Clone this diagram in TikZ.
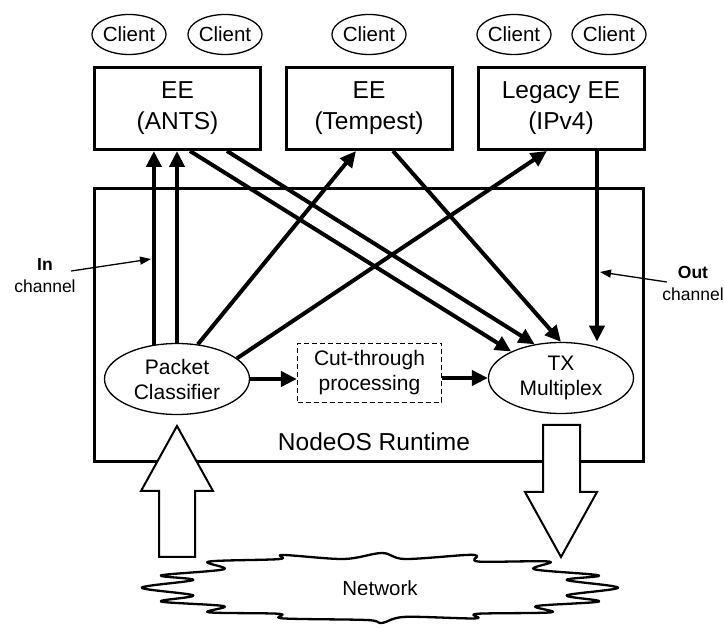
\documentclass[tikz,border=0pt]{standalone}
\usepackage{fontspec}
\setmainfont{Liberation Sans}
\usetikzlibrary{arrows.meta, shapes.geometric, calc}

\begin{document}
\begin{tikzpicture}[x=1pt, y=-1pt]
    \tikzstyle{client}=[draw, ellipse, line width=1.3pt, minimum width=72pt, minimum height=40pt, inner sep=0pt, font=\fontsize{20.5}{22}\selectfont]
    \tikzstyle{eebox}=[draw, rectangle, line width=3pt, minimum width=166pt, minimum height=82pt, align=center, font=\fontsize{24.5}{31}\selectfont]
    \tikzstyle{proc}=[draw, ellipse, line width=1.3pt, minimum width=145pt, minimum height=71pt, inner sep=0pt, align=center, font=\fontsize{21}{25}\selectfont]
    \tikzstyle{cutbox}=[draw, dash pattern=on 5pt off 3pt, line width=1.3pt, minimum width=144pt, minimum height=59pt, align=center, font=\fontsize{21}{25}\selectfont]
    \tikzstyle{flow}=[line width=4pt, -{Triangle[length=16pt,width=15pt]}]
    \tikzstyle{pointer}=[line width=1.3pt, -{Triangle[length=11pt,width=8pt]}]
    \tikzstyle{bigarrow}=[draw, fill=white, line width=2pt, line join=miter]
    \tikzstyle{note}=[align=center, font=\fontsize{17.5}{22}\selectfont]
    \useasboundingbox (0,0) rectangle (724,628);

    % NodeOS frame and the two network arrows
    \draw[line width=3pt] (94.5,188.5) rectangle (643.5,461.5);
    \node[font=\fontsize{24.5}{28}\selectfont] (rtlbl) at (374,442) {NodeOS Runtime};
    \draw[bigarrow] (159,557) -- (159,491) -- (141,491) -- (177,426) -- (213,491) -- (195,491) -- (195,557) -- cycle;
    \draw[bigarrow] (543,425) -- (580,425) -- (580,492) -- (597,492) -- (561,557) -- (525,492) -- (543,492) -- cycle;

    % network cloud
    \draw[line width=2.3pt, line join=round] plot[smooth cycle, tension=0.55] coordinates {
        (208.6,561.6) (279,559.1) (283,555) (343.8,559) (381.9,553) (404.8,559) (465.7,555) (477,556) (479,561.6) (549.5,561.6)
        (534.3,569.3) (599,575.4) (566.7,580) (618,587.7) (566.7,595.4) (599,601.5) (536.2,606.1) (551.4,612.3)
        (477.1,613.8) (475.2,618.4) (404.8,616.9) (381.9,623) (366.7,620) (282.9,618.4) (279,613.8) (208.6,612.3)
        (223.8,606.1) (161,601.5) (193.3,595.4) (141.9,587.7) (193.3,580) (161,575.4) (223.8,569.3)};
    \node[font=\fontsize{20.5}{22}\selectfont] (net) at (380,588) {Network};

    % clients and execution environments
    \node[client] (c1) at (129,34.5) {Client};
    \node[client] (c2) at (225,34.5) {Client};
    \node[client] (c3) at (369,34.5) {Client};
    \node[client] (c4) at (514,34.5) {Client};
    \node[client] (c5) at (609,34.5) {Client};
    \node[eebox] (ants) at (177.5,108.5) {EE\\(ANTS)};
    \node[eebox] (temp) at (369,108.5) {EE\\(Tempest)};
    \node[eebox] (leg) at (561,108.5) {Legacy EE\\(IPv4)};

    % runtime parts
    \node[proc] (cls) at (177,379) {Packet\\Classifier};
    \node[proc] (tx) at (561,378) {TX\\Multiplex};
    \node[cutbox] (cut) at (369.5,373) {Cut-through\\processing};

    \draw[flow] (cls.124) -- (cls.124 |- ants.south);
    \draw[flow] (cls.north) -- (cls.north |- ants.south);
    \draw[flow] (cls.59) -- ([xshift=-13pt]temp.south);
    \draw[flow] (cls.19) -- ([xshift=-14pt]leg.south);
    \draw[flow] ([xshift=12.5pt]ants.south) -- (tx.152);
    \draw[flow] ([xshift=49.5pt]ants.south) -- (tx.128);
    \draw[flow] ([xshift=24pt]temp.south) -- (tx.north);
    \draw[flow, shorten >=5pt] ([xshift=36pt]leg.south) -- ([xshift=36pt]leg.south |- tx.41);
    \draw[flow] (cls.east) -- (cls.east -| cut.west);
    \draw[flow] (tx.west -| cut.east) -- (tx.west);

    % channel labels
    \node[note] (inlbl) at (45,276) {\textbf{In}\\channel};
    \node[note] (outlbl) at (693,283) {\textbf{Out}\\channel};
    \coordinate (inpt) at (151,259);
    \coordinate (outpt) at (600,272);
    \draw[pointer] ([xshift=-8pt,yshift=5pt]inlbl.east) -- (inpt);
    \draw[pointer] ([xshift=8pt,yshift=1pt]outlbl.west) -- (outpt);
\end{tikzpicture}
\end{document}
